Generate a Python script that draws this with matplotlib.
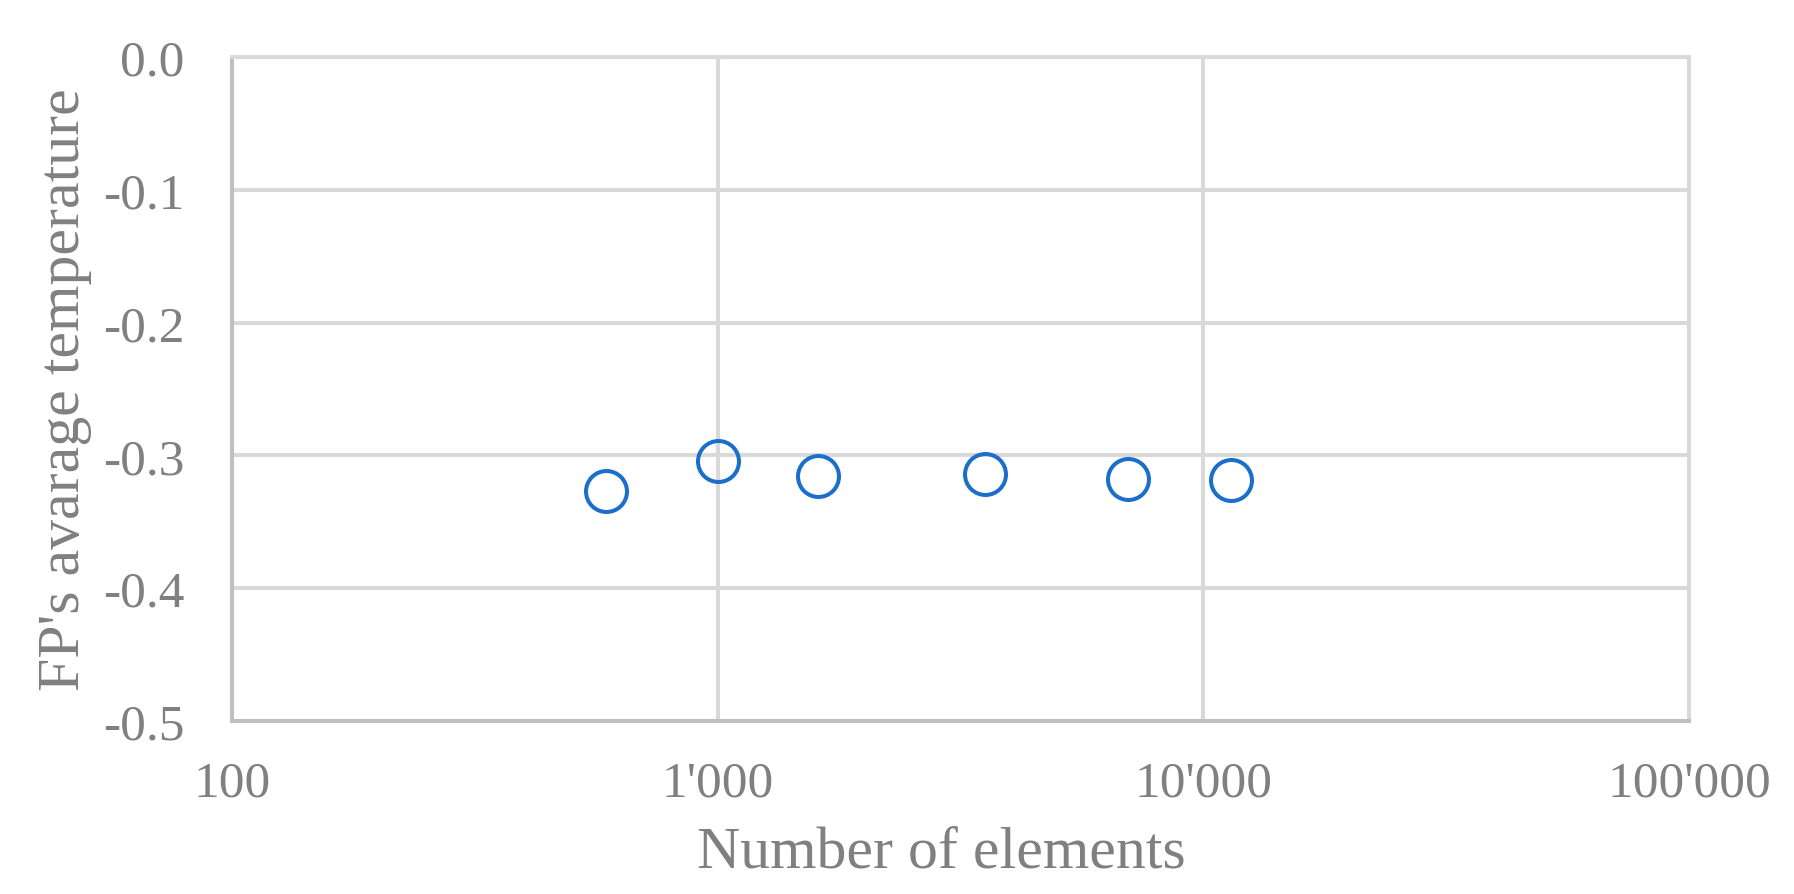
import matplotlib.pyplot as plt
from matplotlib.ticker import FuncFormatter, NullLocator, FixedLocator

# Data
elements = [589, 1000, 1608, 3550, 7000, 11400]
avg_temp = [-0.327, -0.304, -0.3155, -0.314, -0.318, -0.3186]

x_ticks = [100, 1000, 10000, 100000]
y_ticks = [0.0, -0.1, -0.2, -0.3, -0.4, -0.5]

text_col = "#808080"
grid_col = "#D9D9D9"
axis_col = "#BFBFBF"
blue = "#1B6FCB"

plt.rcParams["font.family"] = ["Liberation Serif", "DejaVu Serif"]

fig = plt.figure(figsize=(17.94, 8.95), dpi=100)
ax = fig.add_axes([232 / 1794, (895 - 722) / 895, (1689 - 232) / 1794, (722 - 58) / 895])

ax.plot(elements, avg_temp, linestyle="none", marker="o", markersize=29.5,
        markerfacecolor="none", markeredgecolor=blue, markeredgewidth=2.9,
        clip_on=False, zorder=3)

ax.set_xscale("log")
ax.set_xlim(100, 100000)
ax.set_ylim(-0.5, 0.0)
ax.xaxis.set_major_locator(FixedLocator(x_ticks))
ax.xaxis.set_minor_locator(NullLocator())
ax.set_yticks(y_ticks)
ax.xaxis.set_major_formatter(FuncFormatter(lambda v, p: f"{int(round(v)):,}".replace(",", "'")))
ax.yaxis.set_major_formatter(FuncFormatter(lambda v, p: f"{v:.1f}"))

ax.grid(True, color=grid_col, linewidth=2.9)
ax.set_axisbelow(True)
for s in ["top", "right"]:
    ax.spines[s].set_color(grid_col)
    ax.spines[s].set_linewidth(2.9)
for s in ["left", "bottom"]:
    ax.spines[s].set_color(axis_col)
    ax.spines[s].set_linewidth(2.9)

ax.tick_params(axis="both", length=0, labelsize=37, labelcolor=text_col)
ax.tick_params(axis="y", pad=34)
ax.tick_params(axis="x", pad=28)

ax.set_xlabel("Number of elements", fontsize=43, color=text_col, labelpad=14)
ax.xaxis.label.set_x(0.487)
ax.set_ylabel("FP's avarage temperature", fontsize=43, color=text_col, labelpad=8)

fig.savefig("out.png", dpi=100)
